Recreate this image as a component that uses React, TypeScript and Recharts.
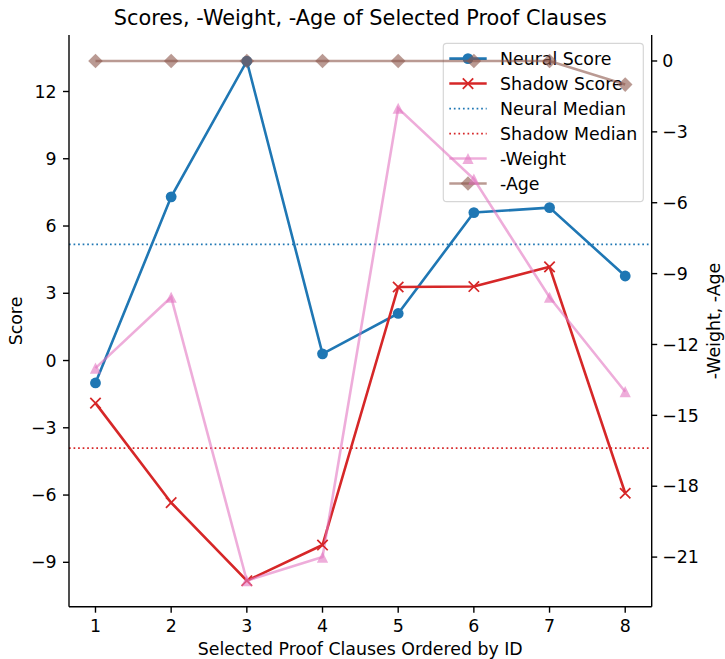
import { ComposedChart, Line, ReferenceLine, XAxis, YAxis } from "recharts";

const FONT = "DejaVu Sans, Liberation Sans, sans-serif";

const clauseIds = [1, 2, 3, 4, 5, 6, 7, 8];
const neuralScore = [-1.0, 7.3, 13.35, 0.3, 2.1, 6.6, 6.82, 3.77];
const shadowScore = [-1.9, -6.34, -9.82, -8.23, 3.28, 3.3, 4.18, -5.92];
const negWeight = [-13, -10, -22, -21, -2, -5, -10, -14];
const negAge = [0, 0, 0, 0, 0, 0, 0, -1];

const xTicks = [1, 2, 3, 4, 5, 6, 7, 8];
const scoreTicks = [-9, -6, -3, 0, 3, 6, 9, 12];
const rightTicks = [-21, -18, -15, -12, -9, -6, -3, 0];

const seriesNames = ["Neural Score", "Shadow Score", "Neural Median", "Shadow Median", "-Weight", "-Age"];

const BLUE = "#1f77b4";
const RED = "#d62728";
const PINK = "#e377c2";
const BROWN = "#8c564b";

const FS = 17.36;

const median = (vals: number[]) => {
  const s = [...vals].sort((a, b) => a - b);
  const m = Math.floor(s.length / 2);
  return s.length % 2 ? s[m] : (s[m - 1] + s[m]) / 2;
};

const neuralMedian = median(neuralScore);
const shadowMedian = median(shadowScore);

const rows = clauseIds.map((id, i) => ({
  id,
  neural: neuralScore[i],
  shadow: shadowScore[i],
  weight: negWeight[i],
  age: negAge[i],
}));

const fmt = (v: number) => String(v).replace("-", "\u2212");

const tickStyle = { fill: "#000", fontSize: FS, fontFamily: FONT };
const axisLine = { stroke: "#000", strokeWidth: 1.39 };

// marker shapes, roughly matplotlib 'o', 'x', '^', 'D'
const Circle = ({ cx, cy, color }: any) => <circle cx={cx} cy={cy} r={5.4} fill={color} />;

const Cross = ({ cx, cy, color }: any) => (
  <path d={`M${cx - 5.2},${cy - 5.2}L${cx + 5.2},${cy + 5.2}M${cx - 5.2},${cy + 5.2}L${cx + 5.2},${cy - 5.2}`} stroke={color} strokeWidth={1.74} fill="none" />
);

const Tri = ({ cx, cy, color, alpha }: any) => (
  <path d={`M${cx},${cy - 5.6}L${cx - 5.6},${cy + 5.6}L${cx + 5.6},${cy + 5.6}Z`} fill={color} fillOpacity={alpha} />
);

const Diamond = ({ cx, cy, color, alpha }: any) => (
  <path d={`M${cx},${cy - 7.3}L${cx + 7.3},${cy}L${cx},${cy + 7.3}L${cx - 7.3},${cy}Z`} fill={color} fillOpacity={alpha} />
);

function LegendBox() {
  const x0 = 443.3;
  const y0 = 58.6;
  const step = 24.97;
  const hx1 = 449.3;
  const hx2 = 486.7;
  const mx = (hx1 + hx2) / 2;
  return (
    <svg width={725} height={659} style={{ position: "absolute", left: 0, top: 0 }}>
      <rect x={x0} y={43.3} width={200} height={158.4} rx={3.4} fill="#fff" stroke="#d6d6d6" strokeWidth={1.2} />
      {seriesNames.map((name, i) => {
        const y = y0 + i * step;
        return (
          <g key={name}>
            {i === 0 && (
              <>
                <line x1={hx1} x2={hx2} y1={y} y2={y} stroke={BLUE} strokeWidth={2.6} />
                <Circle cx={mx} cy={y} color={BLUE} />
              </>
            )}
            {i === 1 && (
              <>
                <line x1={hx1} x2={hx2} y1={y} y2={y} stroke={RED} strokeWidth={2.6} />
                <Cross cx={mx} cy={y} color={RED} />
              </>
            )}
            {i === 2 && <line x1={hx1} x2={hx2} y1={y} y2={y} stroke={BLUE} strokeWidth={1.74} strokeDasharray="1.7 2.85" />}
            {i === 3 && <line x1={hx1} x2={hx2} y1={y} y2={y} stroke={RED} strokeWidth={1.74} strokeDasharray="1.7 2.85" />}
            {i === 4 && (
              <>
                <line x1={hx1} x2={hx2} y1={y} y2={y} stroke={PINK} strokeOpacity={0.6} strokeWidth={2.6} />
                <Tri cx={mx} cy={y} color={PINK} alpha={0.6} />
              </>
            )}
            {i === 5 && (
              <>
                <line x1={hx1} x2={hx2} y1={y} y2={y} stroke={BROWN} strokeOpacity={0.6} strokeWidth={2.6} />
                <Diamond cx={mx} cy={y} color={BROWN} alpha={0.6} />
              </>
            )}
            <text x={500} y={y + 6.3} fontSize={FS} fontFamily={FONT} fill="#000">
              {name}
            </text>
          </g>
        );
      })}
    </svg>
  );
}

export default function App() {
  return (
    <div style={{ position: "absolute", left: 0, top: 0, width: 725, height: 659, background: "#fff" }}>
      <LegendBox />
      <div style={{ position: "absolute", left: 0, top: 0, zIndex: 1 }}>
        <ComposedChart width={725} height={659} data={rows} margin={{ top: 35, right: 0, bottom: 0, left: 0 }}>
          <XAxis
            xAxisId="top"
            orientation="top"
            dataKey="id"
            type="number"
            domain={[0.65, 8.35]}
            height={0}
            tick={false}
            tickLine={false}
            axisLine={axisLine}
          />
          <XAxis
            dataKey="id"
            type="number"
            domain={[0.65, 8.35]}
            ticks={xTicks}
            allowDataOverflow
            height={52.3}
            tick={tickStyle}
            tickSize={6}
            tickMargin={6.5}
            tickLine={axisLine}
            axisLine={axisLine}
          />
          <YAxis
            yAxisId="left"
            type="number"
            domain={[-10.98, 14.52]}
            ticks={scoreTicks}
            allowDataOverflow
            width={69}
            tick={tickStyle}
            tickFormatter={fmt}
            tickSize={6}
            tickMargin={6.5}
            tickLine={axisLine}
            axisLine={axisLine}
          />
          <YAxis
            yAxisId="right"
            orientation="right"
            type="number"
            domain={[-23.1, 1.1]}
            ticks={rightTicks}
            allowDataOverflow
            width={73.3}
            tick={tickStyle}
            tickFormatter={fmt}
            tickSize={5.5}
            tickMargin={5}
            tickLine={axisLine}
            axisLine={axisLine}
          />
          <Line
            yAxisId="left"
            dataKey="neural"
            stroke={BLUE}
            strokeWidth={2.6}
            isAnimationActive={false}
            dot={(p: any) => <Circle key={`n${p.index}`} cx={p.cx} cy={p.cy} color={BLUE} />}
            activeDot={false}
          />
          <Line
            yAxisId="left"
            dataKey="shadow"
            stroke={RED}
            strokeWidth={2.6}
            isAnimationActive={false}
            dot={(p: any) => <Cross key={`s${p.index}`} cx={p.cx} cy={p.cy} color={RED} />}
            activeDot={false}
          />
          <ReferenceLine yAxisId="left" y={neuralMedian} stroke={BLUE} strokeWidth={1.74} strokeDasharray="1.7 2.85" />
          <ReferenceLine yAxisId="left" y={shadowMedian} stroke={RED} strokeWidth={1.74} strokeDasharray="1.7 2.85" />
          <Line
            yAxisId="right"
            dataKey="weight"
            stroke={PINK}
            strokeOpacity={0.6}
            strokeWidth={2.6}
            isAnimationActive={false}
            dot={(p: any) => <Tri key={`w${p.index}`} cx={p.cx} cy={p.cy} color={PINK} alpha={0.6} />}
            activeDot={false}
          />
          <Line
            yAxisId="right"
            dataKey="age"
            stroke={BROWN}
            strokeOpacity={0.6}
            strokeWidth={2.6}
            isAnimationActive={false}
            dot={(p: any) => <Diamond key={`a${p.index}`} cx={p.cx} cy={p.cy} color={BROWN} alpha={0.6} />}
            activeDot={false}
          />
          <text x={360.3} y={25} textAnchor="middle" fontSize={20.83} fontFamily={FONT} fill="#000">
            Scores, -Weight, -Age of Selected Proof Clauses
          </text>
          <text x={360.3} y={655} textAnchor="middle" fontSize={FS} fontFamily={FONT} fill="#000">
            Selected Proof Clauses Ordered by ID
          </text>
          <text x={21.5} y={321} transform="rotate(-90 21.5 321)" textAnchor="middle" fontSize={FS} fontFamily={FONT} fill="#000">
            Score
          </text>
          <text x={719.5} y={321} transform="rotate(-90 719.5 321)" textAnchor="middle" fontSize={FS} fontFamily={FONT} fill="#000">
            -Weight, -Age
          </text>
        </ComposedChart>
      </div>
    </div>
  );
}
